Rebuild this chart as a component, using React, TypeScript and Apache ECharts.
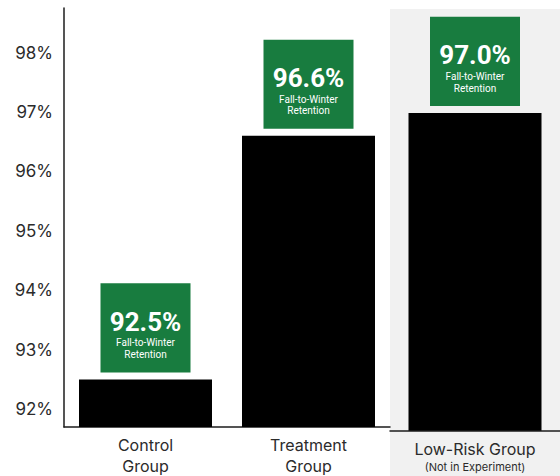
import React, { useEffect, useRef } from "react";
import * as echarts from "echarts";

// Fall-to-winter retention by group
const experimentGroups = ["Control\nGroup", "Treatment\nGroup"];
const experimentRetention = [92.5, 96.6];
const comparisonGroups = ["Low-Risk Group"];
const comparisonNotes = ["(Not in Experiment)"];
const comparisonRetention = [97.0];
const yTickValues = [92, 93, 94, 95, 96, 97, 98];

const Y_MIN = 91.7;
const Y_MAX = 98.75;
const GREEN = "#187c3f";
const BAND_GRAY = "#f1f1f1";
const AXIS_COLOR = "#1c1c1c";
const TEXT_COLOR = "#2b2b2b";

const boxLabel = {
  show: true,
  position: "top" as const,
  distance: 7,
  backgroundColor: GREEN,
  width: 90,
  padding: [23, 0, 12, 0],
  align: "center" as const,
  formatter: (p: any) => `{v|${Number(p.value).toFixed(1)}%}\n{s|Fall-to-Winter}\n{s|Retention}`,
  rich: {
    v: {
      fontFamily: "Roboto",
      fontWeight: "bold" as const,
      fontSize: 26,
      lineHeight: 30.5,
      color: "#ffffff",
      align: "center" as const,
    },
    s: {
      fontFamily: "Roboto",
      fontSize: 10,
      lineHeight: 11.8,
      color: "#ffffff",
      align: "center" as const,
    },
  },
};

export default function App() {
  const ref = useRef<HTMLDivElement>(null);

  useEffect(() => {
    if (!ref.current) return;
    const chart = echarts.init(ref.current, null, { renderer: "svg" });

    const yBase = {
      type: "value" as const,
      min: Y_MIN,
      max: Y_MAX,
      splitLine: { show: false },
      axisTick: { show: false },
    };

    chart.setOption({
      animation: false,
      backgroundColor: "#ffffff",
      graphic: [
        {
          type: "rect",
          z: -10,
          silent: true,
          shape: { x: 390, y: 9, width: 170, height: 467 },
          style: { fill: BAND_GRAY },
        },
      ],
      grid: [
        { left: 64, top: 8, width: 326, bottom: 45.3 },
        { left: 390, top: 8, right: 0, bottom: 45.3 },
      ],
      xAxis: [
        {
          type: "category",
          gridIndex: 0,
          data: experimentGroups,
          axisLine: { lineStyle: { color: AXIS_COLOR, width: 1.5 } },
          axisTick: { show: false },
          axisLabel: {
            margin: 7,
            fontFamily: "Inter",
            fontSize: 16,
            lineHeight: 21,
            color: TEXT_COLOR,
          },
        },
        {
          type: "category",
          gridIndex: 1,
          data: comparisonGroups,
          axisLine: { lineStyle: { color: AXIS_COLOR, width: 1.5 } },
          axisTick: { show: false },
          axisLabel: {
            margin: 8,
            color: TEXT_COLOR,
            formatter: (v: string, i: number) => `{a|${v}}\n{b|${comparisonNotes[i] ?? ""}}`,
            rich: {
              a: { fontFamily: "Inter", fontSize: 16, lineHeight: 20, color: TEXT_COLOR },
              b: { fontFamily: "Inter", fontSize: 11, lineHeight: 16, color: TEXT_COLOR },
            },
          },
        },
      ],
      yAxis: [
        {
          ...yBase,
          gridIndex: 0,
          axisLine: { show: true, lineStyle: { color: AXIS_COLOR, width: 1.5 } },
          axisLabel: {
            customValues: yTickValues,
            formatter: (v: number) => `${Math.round(v)}%`,
            margin: 11,
            fontFamily: "Inter",
            fontSize: 17,
            color: TEXT_COLOR,
          },
        },
        {
          ...yBase,
          gridIndex: 1,
          show: false,
        },
      ],
      series: [
        {
          type: "bar",
          xAxisIndex: 0,
          yAxisIndex: 0,
          data: experimentRetention,
          barWidth: 133,
          itemStyle: { color: "#000000" },
          label: boxLabel,
        },
        {
          type: "bar",
          xAxisIndex: 1,
          yAxisIndex: 1,
          data: comparisonRetention,
          barWidth: 133,
          itemStyle: { color: "#000000" },
          label: boxLabel,
        },
      ],
    });

    return () => chart.dispose();
  }, []);

  return (
    <div
      ref={ref}
      style={{ position: "fixed", left: 0, top: 0, width: 560, height: 476 }}
    />
  );
}
